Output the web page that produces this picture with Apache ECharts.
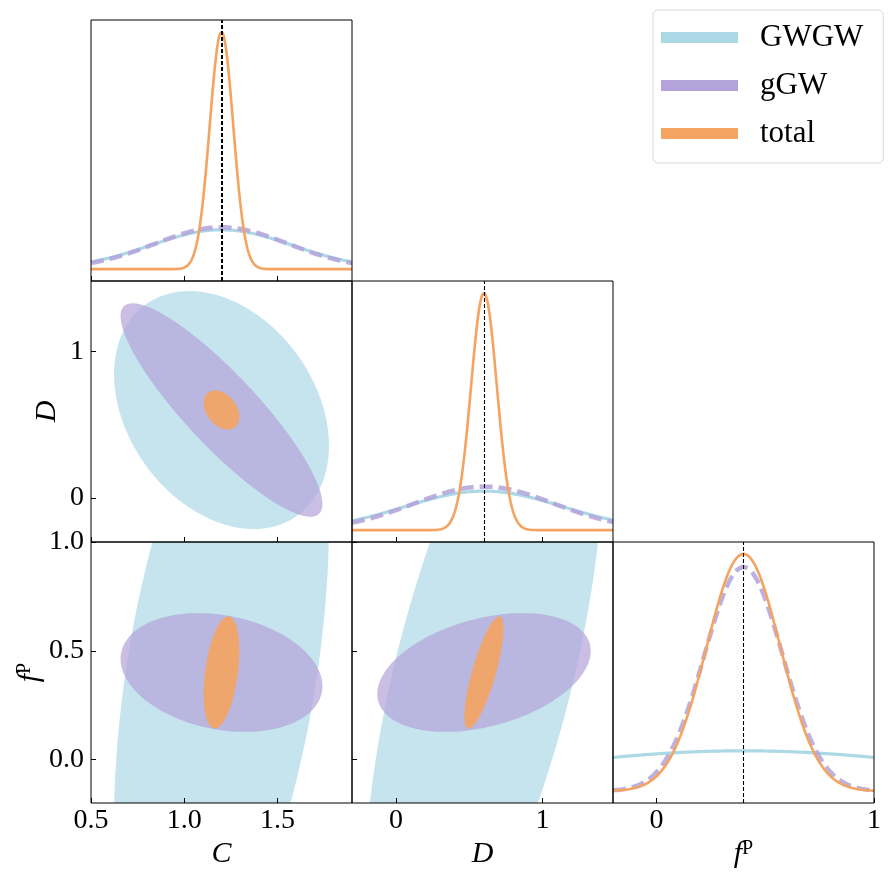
<!DOCTYPE html>
<html>
<head>
<meta charset="utf-8">
<script src="https://cdn.jsdelivr.net/npm/echarts@6/dist/echarts.min.js"></script>
<style>
  html, body { margin: 0; padding: 0; background: #fff; }
  #chart { width: 894px; height: 884px; }
</style>
</head>
<body>
<div id="chart"></div>
<script>
// corner plot of Gaussian forecasts for C, D, f^P
const paramNames = ['C', 'D', 'fP'];
const fiducial = [1.2, 0.6, 0.4];
const axisMin = [0.5, -0.3, -0.2];
const axisMax = [1.9, 1.48, 1.0];
const ticksC = [0.5, 1.0, 1.5];
const ticksD = [0, 1];
const ticksFpY = [0.0, 0.5, 1.0];
const ticksFpX = [0, 1];

const setNames = ['GWGW', 'gGW', 'total'];
// marginal 1-sigma errors on [C, D, fP]
const sigmaGWGW = [0.38, 0.535, 1.0];
const sigmaGGW = [0.357, 0.48, 0.18];
const sigmaTotal = [0.063, 0.088, 0.17];
// correlation coefficients [C-D, C-fP, D-fP]
const corrGWGW = [-0.30, 0.45, 0.64];
const corrGGW = [-0.88, -0.23, 0.36];
const corrTotal = [-0.35, 0.38, 0.78];

const sigmas = [sigmaGWGW, sigmaGGW, sigmaTotal];
const corrs = [corrGWGW, corrGGW, corrTotal];

const lineColors = ['#ADD8E6', '#B3A3DA', '#F4A460'];
const fillColors = ['rgba(173,216,230,0.7)', 'rgba(179,163,218,0.7)', 'rgba(244,164,96,0.9)'];
const FONT = 'Liberation Serif';
const K68 = Math.sqrt(2.30);

const xTicks = [ticksC, ticksD, ticksFpX];
const yTicks = [ticksC, ticksD, ticksFpY];
const xDec = [1, 0, 0];
const yDec = [1, 0, 1];

function pairIndex(a, b) {
    if (a === 0 && b === 1) return 0;
    if (a === 0 && b === 2) return 1;
    return 2;
}

function gauss(x, mu, s) {
    return Math.exp(-0.5 * ((x - mu) / s) ** 2) / (s * Math.sqrt(2 * Math.PI));
}

const nameRich = {
    it: { fontFamily: FONT, fontStyle: 'italic', fontSize: 30, color: '#000' },
    sup: { fontFamily: FONT, fontSize: 20, color: '#000', verticalAlign: 'top' }
};
const axisTitles = ['{it|C}', '{it|D}', '{it|f}{sup|P}'];

const left0 = 91, top0 = 20, size = 261;
const grids = [], xAxes = [], yAxes = [], series = [];

for (let row = 0; row < 3; row++) {
    for (let col = 0; col <= row; col++) {
        const g = grids.length;
        grids.push({
            left: left0 + col * size, top: top0 + row * size,
            width: size, height: size,
            show: true, borderColor: '#000', borderWidth: 1,
            backgroundColor: 'transparent', z: 10
        });
        const bottomRow = row === 2;
        xAxes.push({
            gridIndex: g, type: 'value',
            min: axisMin[col], max: axisMax[col],
            z: 10,
            axisLine: { show: false, onZero: false },
            splitLine: { show: false },
            axisTick: { show: true, inside: true, length: 5, customValues: xTicks[col],
                lineStyle: { color: '#000', width: 1 } },
            axisLabel: { show: bottomRow, customValues: xTicks[col], margin: 4,
                fontFamily: FONT, fontSize: 28, color: '#000',
                formatter: v => v.toFixed(xDec[col]) },
            name: bottomRow ? axisTitles[col] : '',
            nameLocation: 'middle', nameGap: 36,
            nameTextStyle: { rich: nameRich }
        });
        if (row === col) {
            let peak = 0;
            sigmas.forEach(s => { peak = Math.max(peak, gauss(0, 0, s[row])); });
            yAxes.push({
                gridIndex: g, type: 'value', show: false,
                min: -0.05 * peak, max: 1.05 * peak
            });
            const xs = [];
            for (let i = 0; i <= 240; i++) {
                xs.push(axisMin[col] + (axisMax[col] - axisMin[col]) * i / 240);
            }
            sigmas.forEach((s, k) => {
                const line = {
                    name: setNames[k], type: 'line', xAxisIndex: g, yAxisIndex: g,
                    showSymbol: false, symbol: 'none', silent: true,
                    data: xs.map(x => [x, gauss(x, fiducial[row], s[row])]),
                    lineStyle: { color: lineColors[k], width: 3.2 },
                    itemStyle: { color: lineColors[k] },
                    z: 2 + k
                };
                if (k === 1) {
                    line.lineStyle = { color: lineColors[k], width: 4.5, type: [13, 6], opacity: 0.85 };
                }
                if (k === 2) {
                    line.lineStyle = { color: lineColors[k], width: 2.6 };
                    line.markLine = {
                        silent: true, symbol: 'none', label: { show: false },
                        lineStyle: { color: '#000', width: row === 0 ? 2 : 1.1, type: [4, 2] },
                        data: [{ xAxis: fiducial[row] }]
                    };
                }
                series.push(line);
            });
        } else {
            yAxes.push({
                gridIndex: g, type: 'value',
                min: axisMin[row], max: axisMax[row],
                z: 10,
                axisLine: { show: false, onZero: false },
                splitLine: { show: false },
                axisTick: { show: true, inside: true, length: 5, customValues: yTicks[row],
                    lineStyle: { color: '#000', width: 1 } },
                axisLabel: { show: col === 0, customValues: yTicks[row], margin: 7,
                    fontFamily: FONT, fontSize: 28, color: '#000',
                    formatter: v => v.toFixed(yDec[row]) },
                name: col === 0 ? axisTitles[row] : '',
                nameLocation: 'middle', nameGap: row === 1 ? 29 : 45,
                nameTextStyle: { rich: nameRich }
            });
            const p = pairIndex(col, row);
            series.push({
                type: 'custom', xAxisIndex: g, yAxisIndex: g,
                clip: true, silent: true, z: 2,
                data: [0, 1, 2].map(k => [fiducial[col], fiducial[row], k]),
                renderItem: function (params, api) {
                    const k = api.value(2);
                    const sx = sigmas[k][col], sy = sigmas[k][row], r = corrs[k][p];
                    const pts = [];
                    for (let i = 0; i < 180; i++) {
                        const t = 2 * Math.PI * i / 180;
                        const x = fiducial[col] + K68 * sx * Math.cos(t);
                        const y = fiducial[row] + K68 * sy * (r * Math.cos(t) + Math.sqrt(1 - r * r) * Math.sin(t));
                        pts.push(api.coord([x, y]));
                    }
                    return { type: 'polygon', shape: { points: pts }, style: { fill: fillColors[k] } };
                }
            });
        }
    }
}

const chart = echarts.init(document.getElementById('chart'));
chart.setOption({
    animation: false,
    backgroundColor: '#fff',
    grid: grids,
    xAxis: xAxes,
    yAxis: yAxes,
    legend: {
        orient: 'vertical', left: 653, top: 10,
        padding: [12, 20, 14, 8],
        itemWidth: 77, itemHeight: 11, itemGap: 17, icon: 'rect',
        selectedMode: false,
        borderColor: '#d9d9d9', borderWidth: 1, borderRadius: 5,
        textStyle: { fontFamily: FONT, fontSize: 31, color: '#000', lineHeight: 30, padding: [0, 0, 0, 17] },
        data: setNames.map((n, k) => ({ name: n, itemStyle: { color: lineColors[k], borderWidth: 0 } }))
    },
    series: series
});
</script>
</body>
</html>
